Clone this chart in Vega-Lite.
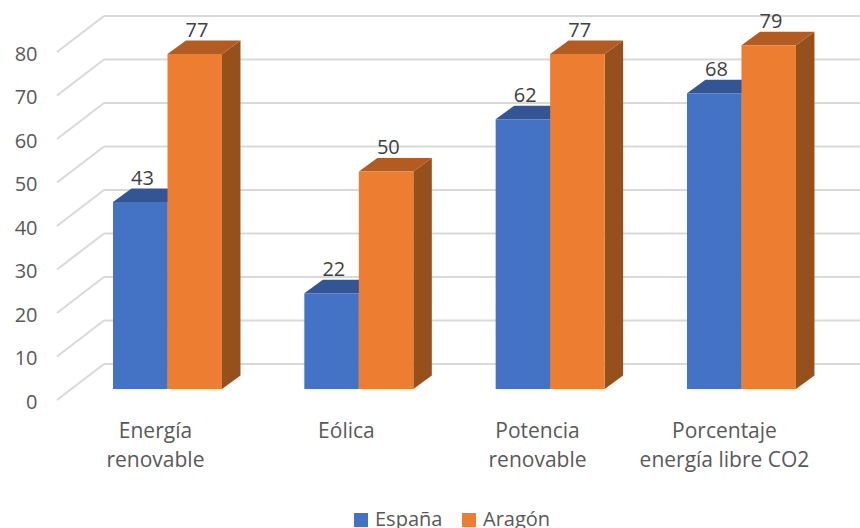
{
"$schema":"https://vega.github.io/schema/vega-lite/v6.json",
"width":803,"height":348,
"autosize":{"type":"none"},
"padding":{"left":57,"top":52,"right":0,"bottom":128},
"background":"white",
"config":{"view":{"stroke":null}},
"datasets":{
"valores":[
{"categoria":"Energía renovable","serie":"España","valor":43},
{"categoria":"Energía renovable","serie":"Aragón","valor":77},
{"categoria":"Eólica","serie":"España","valor":22},
{"categoria":"Eólica","serie":"Aragón","valor":50},
{"categoria":"Potencia renovable","serie":"España","valor":62},
{"categoria":"Potencia renovable","serie":"Aragón","valor":77},
{"categoria":"Porcentaje energía libre CO2","serie":"España","valor":68},
{"categoria":"Porcentaje energía libre CO2","serie":"Aragón","valor":79}
],
"ejes":[{"v":0},{"v":10},{"v":20},{"v":30},{"v":40},{"v":50},{"v":60},{"v":70},{"v":80}]
},
"encoding":{
"x":{"field":"x","type":"quantitative","title":null,"scale":{"domain":[0,4.197],"nice":false,"zero":false},
"axis":{"values":[0.512,1.51,2.509,3.486],"labelExpr":"[['Energía','renovable'],['Eólica'],['Potencia','renovable'],['Porcentaje','energía libre CO2']][floor(datum.value)]","domain":false,"ticks":false,"grid":false,"labelFont":"Open Sans","labelFontSize":21,"labelColor":"#595959","labelPadding":20,"labelLineHeight":29,"labelBaseline":"top","labelOverlap":false,"labelBound":false,"labelFlush":false,"labelLimit":400}},
"y":{"field":"y","type":"quantitative","title":null,"scale":{"domain":[0,80],"nice":false,"zero":false},
"axis":{"values":[0,10,20,30,40,50,60,70,80],"domain":false,"ticks":false,"grid":false,"labelFont":"Open Sans","labelFontSize":20,"labelColor":"#595959","labelPadding":20,"labelOffset":2}}
},
"layer":[
{"data":{"name":"ejes"},
"transform":[{"calculate":"0","as":"x"},{"calculate":"0.2456","as":"b"},{"calculate":"datum.v","as":"y"},{"calculate":"datum.v+8.28","as":"w"}],
"mark":{"type":"rule","color":"#D9D9D9","strokeWidth":2},
"encoding":{"x2":{"field":"b"},"y2":{"field":"w"}}},
{"data":{"name":"ejes"},
"transform":[{"calculate":"0.2456","as":"x"},{"calculate":"4.197","as":"b"},{"calculate":"datum.v+8.28","as":"y"}],
"mark":{"type":"rule","color":"#D9D9D9","strokeWidth":2},
"encoding":{"x2":{"field":"b"}}},
{"data":{"name":"valores"},
"transform":[
{"calculate":"indexof(['Energía renovable','Eólica','Potencia renovable','Porcentaje energía libre CO2'],datum.categoria)+0.2927+(datum.serie==='Aragón'?0.2848:0)+0.2848","as":"x1"},
{"calculate":"[0,1]","as":"t"},{"flatten":["t"]},
{"calculate":"datum.x1+datum.t*0.0967","as":"x"},
{"calculate":"datum.valor+2.53+datum.t*3.1","as":"y"},
{"calculate":"2.53+datum.t*3.1","as":"y2"}
],
"mark":{"type":"area","orient":"vertical"},
"encoding":{
"y2":{"field":"y2"},
"detail":{"field":"categoria"},
"color":{"field":"serie","type":"nominal","legend":null,"scale":{"domain":["España","Aragón"],"range":["#2F528F","#96501C"]}}
}},
{"data":{"name":"valores"},
"transform":[
{"calculate":"indexof(['Energía renovable','Eólica','Potencia renovable','Porcentaje energía libre CO2'],datum.categoria)+0.2927+(datum.serie==='Aragón'?0.2848:0)","as":"x0"},
{"calculate":"[0,1]","as":"t"},{"flatten":["t"]},
{"calculate":"datum.x0+datum.t*0.0967","as":"x"},
{"calculate":"datum.x0+0.2848+datum.t*0.0967","as":"x2"},
{"calculate":"datum.valor+2.53+datum.t*3.1","as":"y"}
],
"mark":{"type":"area","orient":"horizontal"},
"encoding":{
"x2":{"field":"x2"},
"detail":{"field":"categoria"},
"color":{"field":"serie","type":"nominal","legend":null,"scale":{"domain":["España","Aragón"],"range":["#335593","#B35C21"]}}
}},
{"data":{"name":"valores"},
"transform":[
{"calculate":"indexof(['Energía renovable','Eólica','Potencia renovable','Porcentaje energía libre CO2'],datum.categoria)+0.2927+(datum.serie==='Aragón'?0.2848:0)","as":"x"},
{"calculate":"datum.x+0.2848","as":"x2"},
{"calculate":"datum.valor+2.53","as":"y"},
{"calculate":"2.53","as":"y2"}
],
"mark":{"type":"rect"},
"encoding":{
"x2":{"field":"x2"},
"y2":{"field":"y2"},
"color":{"field":"serie","type":"nominal","scale":{"domain":["España","Aragón"],"range":["#4472C4","#ED7D31"]},
"legend":{"title":null,"orient":"none","legendX":294,"legendY":458,"direction":"horizontal","symbolType":"square","symbolSize":196,"symbolStrokeWidth":0,"labelFont":"Open Sans","labelFontSize":20,"labelColor":"#595959","columnPadding":16,"padding":0,"labelOffset":4}}
}},
{"data":{"name":"valores"},
"transform":[
{"calculate":"indexof(['Energía renovable','Eólica','Potencia renovable','Porcentaje energía libre CO2'],datum.categoria)+0.2927+(datum.serie==='Aragón'?0.2848:0)+0.1424+0.012","as":"x"},
{"calculate":"datum.valor+7.9","as":"y"}
],
"mark":{"type":"text","font":"Open Sans","fontSize":20,"color":"#404040","baseline":"middle","align":"center"},
"encoding":{
"text":{"field":"valor","type":"quantitative"}
}}
],
"resolve":{"scale":{"color":"independent"}}
}
